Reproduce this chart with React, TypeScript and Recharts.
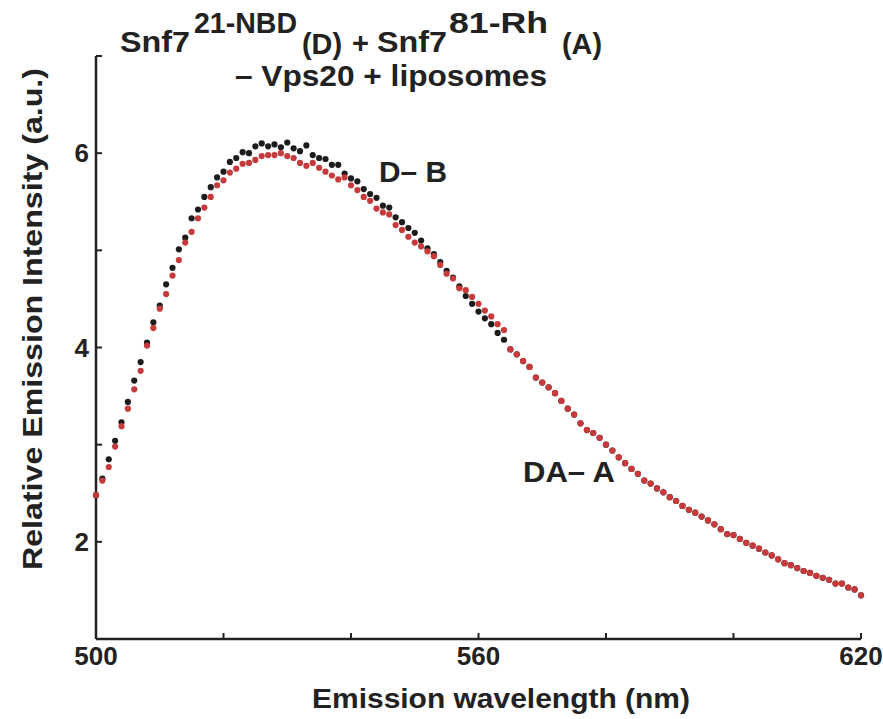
import React from 'react';
import { ComposedChart, Line, XAxis, YAxis } from 'recharts';

// emission wavelength (nm), 1 nm steps
const wavelengths = [
    500, 501, 502, 503, 504, 505, 506, 507, 508, 509,
    510, 511, 512, 513, 514, 515, 516, 517, 518, 519,
    520, 521, 522, 523, 524, 525, 526, 527, 528, 529,
    530, 531, 532, 533, 534, 535, 536, 537, 538, 539,
    540, 541, 542, 543, 544, 545, 546, 547, 548, 549,
    550, 551, 552, 553, 554, 555, 556, 557, 558, 559,
    560, 561, 562, 563, 564, 565, 566, 567, 568, 569,
    570, 571, 572, 573, 574, 575, 576, 577, 578, 579,
    580, 581, 582, 583, 584, 585, 586, 587, 588, 589,
    590, 591, 592, 593, 594, 595, 596, 597, 598, 599,
    600, 601, 602, 603, 604, 605, 606, 607, 608, 609,
    610, 611, 612, 613, 614, 615, 616, 617, 618, 619,
    620,
];

// "D– B" (black dots)
const donorMinusBuffer = [
    2.48, 2.65, 2.85, 3.04, 3.23, 3.44, 3.66, 3.85, 4.05, 4.26,
    4.43, 4.65, 4.82, 5.01, 5.13, 5.33, 5.42, 5.55, 5.65, 5.75,
    5.81, 5.91, 5.95, 6.01, 6.00, 6.07, 6.10, 6.07, 6.09, 6.06,
    6.11, 6.05, 6.02, 6.08, 5.98, 5.95, 5.94, 5.88, 5.88, 5.79,
    5.74, 5.71, 5.63, 5.58, 5.54, 5.46, 5.44, 5.34, 5.29, 5.23,
    5.18, 5.10, 5.02, 4.96, 4.88, 4.79, 4.72, 4.63, 4.53, 4.45,
    4.37, 4.30, 4.24, 4.15, 4.08, 3.98, 3.93, 3.86, 3.80, 3.69,
    3.64, 3.59, 3.53, 3.45, 3.37, 3.31, 3.22, 3.15, 3.12, 3.07,
    3.00, 2.94, 2.87, 2.81, 2.75, 2.70, 2.63, 2.60, 2.55, 2.51,
    2.46, 2.42, 2.37, 2.33, 2.30, 2.26, 2.22, 2.18, 2.13, 2.08,
    2.07, 2.03, 1.99, 1.96, 1.93, 1.89, 1.86, 1.82, 1.78, 1.76,
    1.73, 1.70, 1.68, 1.65, 1.63, 1.61, 1.57, 1.57, 1.53, 1.51,
    1.45,
];

// "DA– A" (red dots)
const donorAcceptorMinusAcceptor = [
    2.48, 2.63, 2.77, 2.98, 3.19, 3.37, 3.57, 3.76, 4.02, 4.20,
    4.40, 4.55, 4.74, 4.90, 5.08, 5.19, 5.33, 5.44, 5.55, 5.67,
    5.72, 5.80, 5.84, 5.89, 5.90, 5.93, 5.97, 5.98, 5.98, 6.00,
    5.97, 5.95, 5.90, 5.87, 5.90, 5.85, 5.81, 5.77, 5.73, 5.75,
    5.67, 5.62, 5.55, 5.51, 5.43, 5.39, 5.37, 5.26, 5.21, 5.14,
    5.08, 5.04, 4.99, 4.94, 4.85, 4.76, 4.71, 4.61, 4.59, 4.52,
    4.45, 4.38, 4.32, 4.24, 4.18, 3.98, 3.93, 3.86, 3.80, 3.69,
    3.64, 3.59, 3.53, 3.45, 3.37, 3.31, 3.22, 3.15, 3.12, 3.07,
    3.00, 2.94, 2.87, 2.81, 2.75, 2.70, 2.63, 2.60, 2.55, 2.51,
    2.46, 2.42, 2.37, 2.33, 2.30, 2.26, 2.22, 2.18, 2.13, 2.08,
    2.07, 2.03, 1.99, 1.96, 1.93, 1.89, 1.86, 1.82, 1.78, 1.76,
    1.73, 1.70, 1.68, 1.65, 1.63, 1.61, 1.57, 1.57, 1.53, 1.51,
    1.45,
];

const xTicks = [500, 520, 540, 560, 580, 600, 620];
const xLabelled = [500, 560, 620];
const yTicks = [1, 2, 3, 4, 5, 6, 7];
const yLabelled = [2, 4, 6];

const FONT = '"Liberation Sans", Arial, Helvetica, sans-serif';
const INK = '#222222';

export default function App() {
    const data = wavelengths.map((wl, i) => ({
        wl,
        db: donorMinusBuffer[i],
        daa: donorAcceptorMinusAcceptor[i],
    }));

    const textStyle = { fontFamily: FONT, fontWeight: 700, fill: INK } as const;

    return (
        <div style={{ position: 'absolute', left: 0, top: 0, width: 883, height: 719, background: '#fff' }}>
            <ComposedChart width={883} height={719} data={data} margin={{ top: 56, right: 22, bottom: 0, left: 0 }}>
                <XAxis
                    dataKey="wl"
                    type="number"
                    domain={[500, 620]}
                    ticks={xTicks}
                    interval={0}
                    height={80}
                    tickSize={-6}
                    tickMargin={14}
                    tickFormatter={(v: number) => (xLabelled.includes(v) ? String(v) : '')}
                    axisLine={{ stroke: INK, strokeWidth: 2.5 }}
                    tickLine={{ stroke: INK, strokeWidth: 2 }}
                    tick={{ fill: INK, fontSize: 26, fontWeight: 700, fontFamily: FONT }}
                />
                <YAxis
                    type="number"
                    domain={[1, 7]}
                    ticks={yTicks}
                    interval={0}
                    width={96}
                    tickSize={-6}
                    tickMargin={13}
                    tickFormatter={(v: number) => (yLabelled.includes(v) ? String(v) : '')}
                    axisLine={{ stroke: INK, strokeWidth: 2.5 }}
                    tickLine={{ stroke: INK, strokeWidth: 2 }}
                    tick={{ fill: INK, fontSize: 26, fontWeight: 700, fontFamily: FONT }}
                />
                <Line
                    dataKey="db"
                    stroke="none"
                    dot={{ r: 3.1, fill: '#1c1c1c', stroke: 'none' }}
                    activeDot={false}
                    isAnimationActive={false}
                />
                <Line
                    dataKey="daa"
                    stroke="none"
                    dot={{ r: 3.1, fill: '#c63a3b', stroke: 'none' }}
                    activeDot={false}
                    isAnimationActive={false}
                />
            </ComposedChart>

            {/* titles, annotations and axis names */}
            <svg width={883} height={719} style={{ position: 'absolute', left: 0, top: 0, pointerEvents: 'none' }}>
                <g style={textStyle} fontSize={29}>
                    <text x={120} y={52} textLength={70} lengthAdjust="spacingAndGlyphs">Snf7</text>
                    <text x={194} y={33} textLength={103} lengthAdjust="spacingAndGlyphs">21-NBD</text>
                    <text x={302} y={54} textLength={40} lengthAdjust="spacingAndGlyphs">(D)</text>
                    <text x={352} y={53}>+</text>
                    <text x={377} y={52} textLength={70} lengthAdjust="spacingAndGlyphs">Snf7</text>
                    <text x={449} y={33} textLength={99} lengthAdjust="spacingAndGlyphs">81-Rh</text>
                    <text x={562} y={54} textLength={40} lengthAdjust="spacingAndGlyphs">(A)</text>
                    <text x={235} y={86} textLength={312} lengthAdjust="spacingAndGlyphs">– Vps20 + liposomes</text>
                    <text x={379} y={182} textLength={68} lengthAdjust="spacingAndGlyphs">D– B</text>
                    <text x={523} y={482} textLength={92} lengthAdjust="spacingAndGlyphs">DA– A</text>
                </g>
                <g style={textStyle} fontSize={28}>
                    <text x={312} y={708} textLength={378} lengthAdjust="spacingAndGlyphs">Emission wavelength (nm)</text>
                    <text transform="translate(42,570) rotate(-90)" textLength={502} lengthAdjust="spacingAndGlyphs">
                        Relative Emission Intensity  (a.u.)
                    </text>
                </g>
            </svg>
        </div>
    );
}
